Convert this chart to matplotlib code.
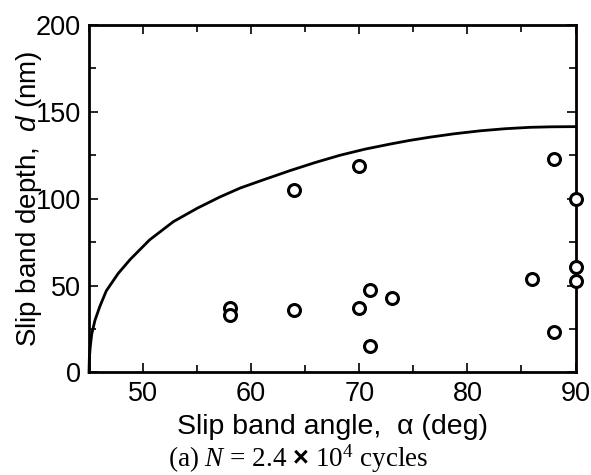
import matplotlib
matplotlib.use("Agg")
import matplotlib.pyplot as plt
from matplotlib.ticker import MultipleLocator

# measured slip bands: angle (deg) and depth (nm)
alpha_meas = [58, 58, 64, 64, 70, 70, 71, 71, 73, 86, 88, 88, 90, 90, 90]
depth_meas = [37, 33, 105, 36, 119, 37, 47.5, 15.5, 43, 54, 123, 23.5, 100, 60.5, 52.5]

# upper-bound curve
alpha_curve = [45.0, 45.03, 45.12, 45.25, 45.55, 46.0, 46.6, 47.7, 48.8, 50.6,
               52.8, 55.0, 57.1, 59.0, 61.0, 63.6, 65.9, 68.2, 70.5, 72.8,
               74.6, 76.5, 78.8, 81.2, 83.5, 85.8, 87.8, 90.0]
depth_curve = [0.0, 8.0, 15.0, 22.0, 30.0, 38.0, 47.0, 57.0, 65.0, 76.3,
               86.8, 94.5, 101.0, 106.2, 110.6, 116.2, 120.8, 125.0, 128.5, 131.4,
               133.5, 135.4, 137.4, 139.1, 140.3, 141.1, 141.4, 141.5]

plt.rcParams["font.family"] = ["Liberation Sans", "DejaVu Sans"]
plt.rcParams["mathtext.fontset"] = "custom"
plt.rcParams["mathtext.rm"] = "Liberation Serif"
plt.rcParams["mathtext.it"] = "Liberation Serif:italic"
plt.rcParams["mathtext.sf"] = "Liberation Sans:italic"
plt.rcParams["mathtext.bf"] = "Liberation Sans:bold"

fig = plt.figure(figsize=(5.91, 4.75), dpi=100)
ax = fig.add_axes([0.1506, 0.2158, 0.8232, 0.7316])

ax.plot(alpha_curve, depth_curve, color="black", linewidth=2.0, clip_on=False, zorder=3)
ax.plot(alpha_meas, depth_meas, linestyle="none", marker="o", markersize=8.6,
        markerfacecolor="white", markeredgecolor="black", markeredgewidth=2.2,
        clip_on=False, zorder=4)

ax.set_xlim(45, 90)
ax.set_ylim(0, 200)
ax.xaxis.set_major_locator(MultipleLocator(10))
ax.xaxis.set_minor_locator(MultipleLocator(5))
ax.yaxis.set_major_locator(MultipleLocator(50))
ax.yaxis.set_minor_locator(MultipleLocator(25))
ax.set_xticks([50, 60, 70, 80, 90])

for s in ax.spines.values():
    s.set_linewidth(2.0)
ax.tick_params(which="both", direction="in", top=True, right=True, width=1.2,
               labelsize=19.5, colors="black")
ax.tick_params(which="major", length=6.5, pad=6)
ax.tick_params(which="minor", length=5)

ax.set_xlabel("Slip band angle,  \u03b1 (deg)", fontsize=20.5, labelpad=5)
ax.set_ylabel("Slip band depth,  $\\mathsf{d}$ (nm)", fontsize=20, labelpad=-6)

fig.text(0.505, 0.0, "(a) $N$ = 2.4 $\\mathbf{\u00d7}$ 10$^4$ cycles",
         family="Liberation Serif", fontsize=19.5, ha="center", va="bottom")

fig.savefig("out.png", dpi=100)
